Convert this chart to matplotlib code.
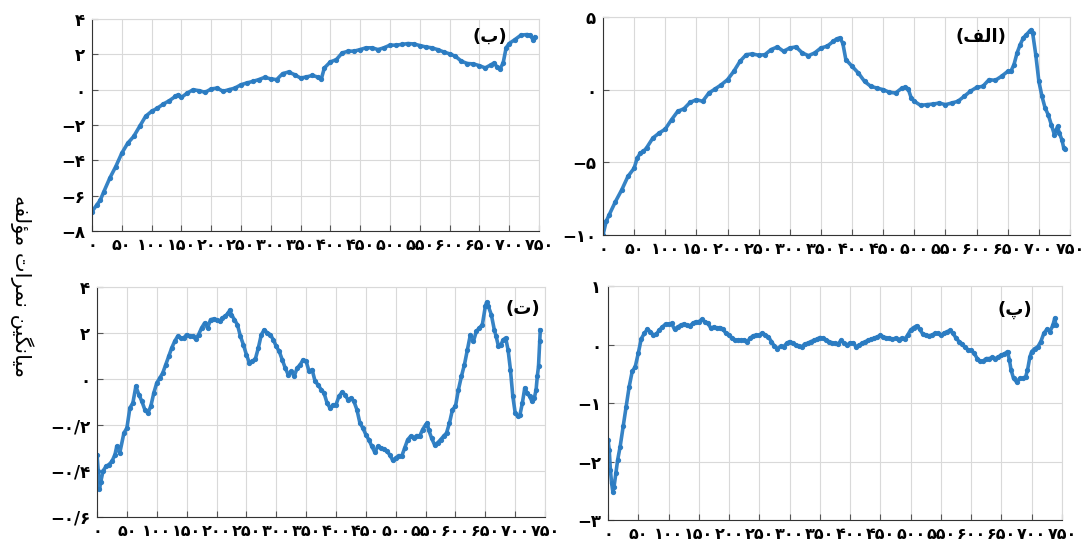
import matplotlib
matplotlib.use("Agg")
import matplotlib.pyplot as plt

# --- data (x = sample index, y = mean score) ---
x_alef = [0, 5, 10, 20, 30, 40, 50, 55, 60, 65, 70, 80, 90, 100, 110, 120, 130, 140, 150, 160,
          170, 180, 190, 200, 210, 220, 230, 240, 250, 260, 270, 280, 290, 300, 310, 320, 330,
          340, 350, 360, 370, 375, 380, 385, 390, 400, 410, 420, 430, 440, 450, 460, 470, 480,
          485, 490, 495, 500, 510, 520, 530, 540, 550, 560, 570, 580, 590, 600, 610, 620, 630,
          640, 650, 655, 660, 665, 670, 675, 680, 685, 688, 690, 695, 700, 705, 710, 715, 720,
          725, 728, 730, 733, 737, 740, 742]
y_alef = [-10.0, -9.07, -8.6, -7.7, -6.9, -5.97, -5.4, -4.7, -4.36, -4.25, -4.0, -3.33, -2.99,
          -2.71, -2.07, -1.49, -1.31, -0.87, -0.69, -0.80, -0.23, 0.05, 0.34, 0.69, 1.26, 1.95,
          2.41, 2.46, 2.37, 2.41, 2.76, 2.94, 2.64, 2.87, 2.94, 2.53, 2.34, 2.53, 2.87, 2.99,
          3.33, 3.49, 3.56, 3.22, 2.07, 1.61, 1.15, 0.57, 0.23, 0.11, 0.0, -0.18, -0.23, 0.11,
          0.16, 0.07, -0.57, -0.80, -1.08, -1.03, -0.99, -0.92, -1.03, -0.92, -0.80, -0.46,
          -0.11, 0.16, 0.23, 0.69, 0.64, 0.92, 1.26, 1.26, 1.72, 2.53, 3.10, 3.56, 3.79, 4.02,
          4.13, 3.9, 2.41, 0.57, -0.46, -1.26, -1.72, -2.41, -3.10, -2.76, -2.53, -3.0, -3.45,
          -4.02, -4.09]

x_be = [0, 8, 14, 20, 30, 40, 50, 60, 70, 80, 90, 100, 110, 120, 130, 140, 145, 150, 160, 170,
        180, 190, 200, 210, 220, 230, 240, 250, 260, 270, 280, 290, 300, 310, 320, 330, 340,
        350, 360, 370, 380, 385, 390, 400, 410, 420, 430, 440, 450, 460, 470, 480, 490, 500,
        510, 520, 530, 540, 550, 560, 570, 580, 590, 600, 610, 620, 630, 640, 650, 660, 670,
        675, 680, 685, 690, 695, 700, 710, 720, 730, 735, 740, 743]
y_be = [-6.9, -6.53, -6.25, -5.77, -5.0, -4.35, -3.6, -3.03, -2.65, -2.08, -1.51, -1.23, -1.04,
        -0.81, -0.62, -0.38, -0.28, -0.44, -0.19, 0.0, -0.06, -0.15, 0.04, 0.09, -0.09, 0.0,
        0.09, 0.28, 0.38, 0.47, 0.57, 0.70, 0.61, 0.57, 0.91, 1.0, 0.85, 0.66, 0.72, 0.81,
        0.70, 0.62, 1.23, 1.57, 1.70, 2.08, 2.18, 2.18, 2.27, 2.37, 2.37, 2.27, 2.37, 2.52,
        2.52, 2.56, 2.61, 2.59, 2.50, 2.42, 2.37, 2.27, 2.14, 2.03, 1.89, 1.61, 1.48, 1.46,
        1.36, 1.23, 1.42, 1.51, 1.27, 1.19, 1.51, 2.37, 2.61, 2.84, 3.09, 3.12, 3.09, 2.84,
        2.97]

x_pe = [0, 2, 4, 6, 8, 10, 13, 16, 20, 25, 30, 35, 40, 45, 50, 55, 60, 65, 70, 75, 80, 85, 90,
        95, 100, 105, 110, 115, 120, 125, 130, 135, 140, 145, 150, 155, 160, 165, 170, 175,
        180, 185, 190, 195, 200, 205, 210, 215, 220, 225, 230, 235, 240, 245, 250, 255, 260,
        265, 270, 275, 280, 285, 290, 295, 300, 305, 310, 315, 320, 325, 330, 335, 340, 345,
        350, 355, 360, 365, 370, 375, 380, 385, 390, 395, 400, 405, 410, 415, 420, 425, 430,
        435, 440, 445, 450, 455, 460, 465, 470, 475, 480, 485, 490, 495, 500, 505, 510, 515,
        520, 525, 530, 535, 540, 545, 550, 555, 560, 565, 570, 575, 580, 585, 590, 595, 600,
        605, 610, 615, 620, 625, 630, 635, 640, 645, 650, 655, 660, 663, 666, 670, 675, 680,
        685, 690, 693, 697, 700, 705, 710, 715, 720, 725, 730, 735, 738, 740]
y_pe = [-1.63, -1.80, -2.15, -2.37, -2.52, -2.43, -2.20, -1.97, -1.75, -1.40, -1.06, -0.72,
        -0.46, -0.38, -0.15, 0.10, 0.19, 0.26, 0.22, 0.16, 0.18, 0.25, 0.30, 0.35, 0.35, 0.36,
        0.26, 0.30, 0.33, 0.35, 0.33, 0.32, 0.36, 0.39, 0.39, 0.43, 0.39, 0.36, 0.28, 0.30,
        0.28, 0.29, 0.26, 0.19, 0.16, 0.11, 0.07, 0.08, 0.07, 0.08, 0.05, 0.11, 0.15, 0.16,
        0.16, 0.20, 0.16, 0.13, 0.05, -0.03, -0.07, -0.03, -0.04, 0.02, 0.05, 0.02, -0.01,
        -0.03, -0.04, 0.01, 0.02, 0.05, 0.07, 0.09, 0.12, 0.11, 0.08, 0.05, 0.03, 0.02, 0.01,
        0.07, 0.02, -0.01, 0.03, 0.03, -0.04, -0.01, 0.02, 0.05, 0.07, 0.09, 0.11, 0.13, 0.16,
        0.13, 0.11, 0.11, 0.09, 0.11, 0.08, 0.11, 0.09, 0.16, 0.25, 0.29, 0.32, 0.26, 0.18,
        0.16, 0.15, 0.16, 0.19, 0.19, 0.16, 0.19, 0.22, 0.24, 0.19, 0.11, 0.05, 0.01, -0.05,
        -0.09, -0.10, -0.15, -0.24, -0.29, -0.28, -0.24, -0.24, -0.22, -0.24, -0.21, -0.18,
        -0.16, -0.12, -0.26, -0.44, -0.58, -0.64, -0.58, -0.58, -0.55, -0.44, -0.21, -0.12,
        -0.07, -0.04, 0.05, 0.19, 0.26, 0.22, 0.33, 0.45, 0.33]

x_te = [0, 2, 4, 6, 10, 15, 20, 25, 30, 33, 38, 45, 50, 55, 60, 65, 70, 75, 80, 85, 90, 95, 100,
        105, 110, 115, 120, 125, 130, 135, 140, 145, 150, 155, 160, 165, 170, 175, 180, 185,
        190, 195, 200, 205, 210, 215, 220, 222, 225, 230, 235, 240, 245, 250, 255, 260, 265,
        270, 275, 280, 285, 290, 295, 300, 305, 310, 315, 320, 325, 330, 335, 340, 345, 350,
        355, 360, 365, 370, 375, 380, 385, 390, 395, 400, 405, 410, 415, 420, 425, 430, 435,
        440, 445, 450, 455, 460, 465, 470, 475, 480, 485, 490, 495, 500, 505, 510, 515, 520,
        525, 530, 535, 540, 545, 550, 553, 555, 560, 565, 570, 575, 580, 585, 590, 595, 600,
        605, 610, 615, 620, 625, 630, 635, 640, 645, 650, 652, 655, 660, 665, 668, 672, 676,
        680, 684, 688, 692, 696, 700, 704, 708, 712, 716, 720, 724, 728, 732, 735, 737, 739,
        741, 742]
y_te = [-3.3, -4.0, -4.8, -4.5, -4.0, -3.8, -3.72, -3.58, -3.29, -2.93, -3.22, -2.35, -2.13,
        -1.26, -1.04, -0.32, -0.68, -0.97, -1.33, -1.48, -1.19, -0.61, -0.17, 0.04, 0.26,
        0.62, 0.99, 1.35, 1.64, 1.86, 1.78, 1.78, 1.93, 1.86, 1.86, 1.74, 1.93, 2.22, 2.43,
        2.22, 2.58, 2.61, 2.58, 2.51, 2.65, 2.75, 2.87, 2.99, 2.80, 2.58, 2.36, 1.86, 1.49,
        1.06, 0.70, 0.77, 0.87, 1.35, 1.93, 2.14, 2.0, 1.93, 1.71, 1.42, 1.20, 0.84, 0.48,
        0.19, 0.33, 0.12, 0.48, 0.62, 0.84, 0.77, 0.33, 0.41, -0.10, -0.25, -0.46, -0.61,
        -1.04, -1.26, -1.12, -1.12, -0.75, -0.58, -0.68, -0.90, -0.83, -0.97, -1.33, -1.91,
        -2.13, -2.42, -2.64, -2.93, -3.19, -2.93, -3.0, -3.04, -3.14, -3.29, -3.54, -3.43,
        -3.33, -3.36, -3.0, -2.64, -2.49, -2.57, -2.46, -2.49, -2.20, -1.99, -1.91, -2.20,
        -2.57, -2.86, -2.78, -2.64, -2.49, -2.35, -1.91, -1.33, -1.19, -0.46, 0.12, 0.62,
        1.28, 1.93, 1.64, 2.07, 2.22, 2.36, 3.16, 3.33, 3.16, 2.80, 2.14, 1.86, 1.42, 1.49,
        1.71, 1.78, 1.28, 0.41, -0.75, -1.48, -1.62, -1.55, -1.04, -0.39, -0.61, -0.75,
        -0.97, -0.83, -0.46, 0.12, 0.55, 1.64, 2.14]

x_ticks = list(range(0, 751, 50))

# panel labels / axis label written in Arabic presentation forms (visual order)
lbl_alef = "(\uFED2\uFEDF\uFE8D)"
lbl_be = "(\uFE8F)"
lbl_pe = "(\uFB56)"
lbl_te = "(\uFE95)"
ylabel = ("\uFEEA\uFED4\uFEDF\uFE86\uFEE3" + " " +
          "\uFE95\uFE8D\uFEAE\uFEE4\uFEE7" + " " +
          "\uFEE6\uFEF4\uFB95\uFEE7\uFE8E\uFEF4\uFEE3")

FA = str.maketrans("0123456789-", "۰۱۲۳۴۵۶۷۸۹−")


def fa(s):
    return str(s).translate(FA)


blue = "#2b7cc2"
plt.rcParams["font.family"] = ["DejaVu Sans"]

fig = plt.figure(figsize=(10.83, 5.4), dpi=100)

panels = [
    ([0.0849, 0.5722, 0.4127, 0.3926], x_be, y_be, (-8, 4), [-8, -6, -4, -2, 0, 2, 4], None,
     lbl_be, (0.89, 0.915)),
    ([0.5568, 0.5648, 0.4312, 0.4037], x_alef, y_alef, (-10, 5), [-10, -5, 0, 5], None,
     lbl_alef, (0.81, 0.91)),
    ([0.0896, 0.0426, 0.4137, 0.4259], x_te, y_te, (-6, 4), [-6, -4, -2, 0, 2, 4],
     ["−۰/۶", "−۰/۴", "−۰/۲", "۰", "۲", "۴"], lbl_te, (0.95, 0.905)),
    ([0.5614, 0.0370, 0.4192, 0.4333], x_pe, y_pe, (-3, 1), [-3, -2, -1, 0, 1], None,
     lbl_pe, (0.896, 0.897)),
]

for rect, xs, ys, ylim, yt, ytl, lbl, lpos in panels:
    ax = fig.add_axes(rect)
    ax.plot(xs, ys, color=blue, lw=2.6, marker="o", ms=2.8, mec=blue, mfc=blue, alpha=0.95)
    ax.set_xlim(0, 750)
    ax.set_ylim(*ylim)
    ax.set_xticks(x_ticks)
    ax.set_xticklabels([fa(t) for t in x_ticks], fontsize=11.5, fontweight="bold")
    ax.set_yticks(yt)
    ax.set_yticklabels(ytl if ytl else [fa(t) for t in yt], fontsize=12, fontweight="bold")
    ax.grid(True, color="#d9d9d9", lw=0.8)
    ax.set_axisbelow(True)
    for side in ("top", "right"):
        ax.spines[side].set_color("#d9d9d9")
    for side in ("left", "bottom"):
        ax.spines[side].set_color("#333333")
    ax.tick_params(direction="in", length=4, color="#555555", pad=5)
    ax.text(lpos[0], lpos[1], lbl, transform=ax.transAxes, ha="center", va="center",
            fontsize=13, fontweight="bold")

fig.text(0.02, 0.47, ylabel, rotation=270, ha="center", va="center", fontsize=15)

fig.savefig("out.png", dpi=100)
